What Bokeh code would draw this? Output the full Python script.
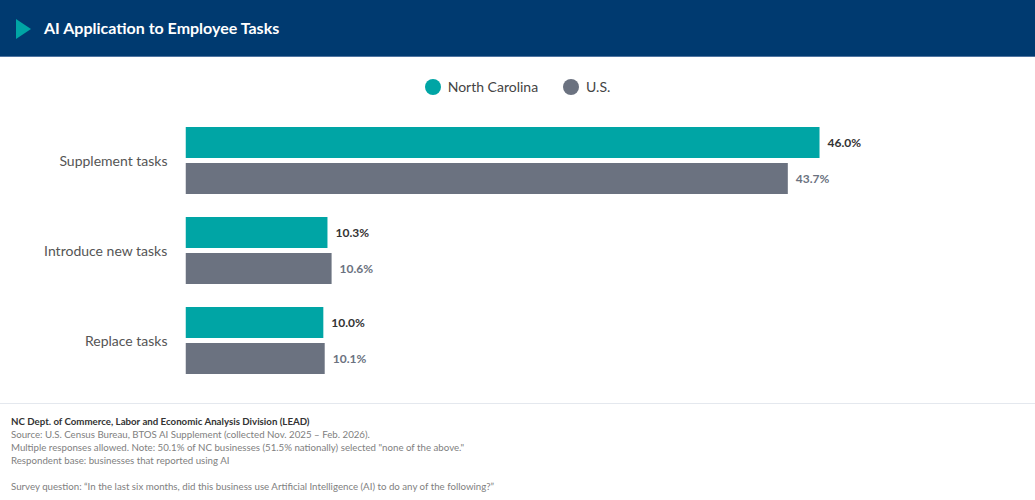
from bokeh.plotting import figure
from bokeh.models import Range1d, FactorRange, ColumnDataSource, Div
from bokeh.transform import dodge
from bokeh.layouts import column
from bokeh.core.properties import value
from bokeh.embed import file_html
from bokeh.resources import INLINE

# ---- data ----
categories = ["Supplement tasks", "Introduce new tasks", "Replace tasks"]
nc_values = [46.0, 10.3, 10.0]
us_values = [43.7, 10.6, 10.1]
series_names = ["North Carolina", "U.S."]
title_text = "AI Application to Employee Tasks"
footer_org = "NC Dept. of Commerce, Labor and Economic Analysis Division (LEAD)"
footer_lines = [
    "Source: U.S. Census Bureau, BTOS AI Supplement (collected Nov. 2025 \u2013 Feb. 2026).",
    "Multiple responses allowed. Note: 50.1% of NC businesses (51.5% nationally) selected \"none of the above.\"",
    "Respondent base: businesses that reported using AI",
]
footer_question = ("Survey question: \u201cIn the last six months, did this business use Artificial "
                   "Intelligence (AI) to do any of the following?\u201d")

TEAL = "#00A5A5"
GREY = "#6B7280"
NAVY = "#003A70"
FONT = "Lato"
series_colors = [TEAL, GREY]

src = ColumnDataSource(dict(
    cat=categories, nc=nc_values, us=us_values,
    nc_lbl=[f"{v:.1f}%" for v in nc_values],
    us_lbl=[f"{v:.1f}%" for v in us_values],
))

# ---- header ----
header = Div(
    text=(f'<div style="position:relative;width:1035px;height:57px;background:{NAVY};'
          'box-sizing:border-box;border-bottom:1px solid #4f74a0;">'
          '<div style="position:absolute;left:16px;top:19px;width:0;height:0;'
          'border-top:10px solid transparent;border-bottom:10px solid transparent;'
          f'border-left:15px solid {TEAL};"></div>'
          f'<div style="position:absolute;left:44px;top:0;line-height:56px;font-family:{FONT};'
          f'font-weight:bold;font-size:16px;color:white;white-space:nowrap;">{title_text}</div></div>'),
    width=1035, height=57, margin=(0, 0, 0, 0))

# ---- legend (HTML) ----
items_html = ""
for i, (name, col) in enumerate(zip(series_names, series_colors)):
    ml = "0" if i == 0 else "25px"
    items_html += (f'<div style="display:flex;align-items:center;margin-left:{ml};">'
                   f'<span style="display:inline-block;width:16px;height:16px;border-radius:50%;'
                   f'background:{col};margin-right:7px;"></span>'
                   f'<span style="font-family:{FONT};font-size:14px;color:#444444;">{name}</span></div>')
legend_div = Div(
    text=(f'<div style="width:1035px;height:58px;display:flex;justify-content:center;'
          f'align-items:center;box-sizing:border-box;padding-top:2px;">{items_html}</div>'),
    width=1035, height=58, margin=(0, 0, 0, 0))

# ---- chart ----
p = figure(width=1035, height=270,
           y_range=FactorRange(*categories[::-1], range_padding=0),
           x_range=Range1d(0, 61.67),
           x_axis_location=None,
           output_backend="svg", toolbar_location=None,
           min_border_left=185, min_border_right=0,
           min_border_top=0, min_border_bottom=0)
p.outline_line_color = None
p.xgrid.visible = False
p.ygrid.visible = False

p.hbar(y=dodge("cat", 0.2, range=p.y_range), left=0, right="nc", height=0.345,
       source=src, fill_color=TEAL, line_color=None)
p.hbar(y=dodge("cat", -0.2, range=p.y_range), left=0, right="us", height=0.345,
       source=src, fill_color=GREY, line_color=None)

p.text(x="nc", y=dodge("cat", 0.2, range=p.y_range), text="nc_lbl", source=src,
       x_offset=8, text_baseline="middle", text_font=value(FONT),
       text_font_style="bold", text_font_size="12px", text_color="#333333")
p.text(x="us", y=dodge("cat", -0.2, range=p.y_range), text="us_lbl", source=src,
       x_offset=8, text_baseline="middle", text_font=value(FONT),
       text_font_style="bold", text_font_size="12px", text_color=GREY)

p.yaxis.axis_line_color = None
p.yaxis.major_tick_line_color = None
p.yaxis.minor_tick_line_color = None
p.yaxis.major_tick_out = 0
p.yaxis.major_label_standoff = 18
p.yaxis.major_label_text_font = FONT
p.yaxis.major_label_text_font_size = "14px"
p.yaxis.major_label_text_color = "#555555"

# ---- footer ----
lines_html = "".join(f'<div>{t}</div>' for t in footer_lines)
footer = Div(
    text=('<div style="width:1035px;height:115px;background:white;">'
          '<div style="height:18px;"></div>'
          f'<div style="border-top:1px solid #e4e8ee;padding:11px 11px 0 11px;font-family:{FONT};'
          'font-size:9.7px;line-height:13px;color:#808080;white-space:nowrap;">'
          f'<div style="font-weight:bold;color:#333333;">{footer_org}</div>'
          f'{lines_html}<div>&nbsp;</div><div>{footer_question}</div></div></div>'),
    width=1035, height=115, margin=(0, 0, 0, 0))

layout = column(header, legend_div, p, footer, spacing=0)
open("out.html", "w").write(file_html(layout, INLINE))
